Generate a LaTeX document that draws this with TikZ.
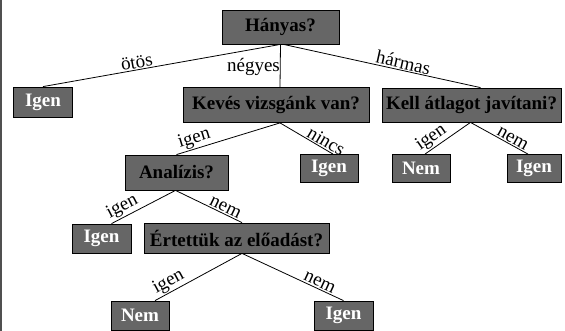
\documentclass[tikz,border=0pt]{standalone}
\usepackage{fontspec}
\setmainfont{Liberation Serif}
\definecolor{boxgray}{RGB}{102,102,102}
\definecolor{framegray}{RGB}{80,80,80}

\begin{document}
\begin{tikzpicture}[x=1pt, y=-1pt,
    font=\fontsize{19pt}{22pt}\selectfont,
    qbox/.style={draw=black, line width=0.8pt, fill=boxgray, inner sep=0pt,
                 font=\fontsize{19pt}{22pt}\selectfont\bfseries},
    leaf/.style={qbox, text=white},
    lbl/.style={sloped, above, inner sep=1pt}]

    % --- Frame ---
    \useasboundingbox (0,0) rectangle (565,331);
    \draw[framegray, line width=1.5pt] (1,0) -- (1,331);

    % --- Question Nodes ---
    \node[qbox, minimum width=117, minimum height=34] (hanyas) at (280.5,27) {Hányas?};
    \node[qbox, minimum width=186, minimum height=35] (keves) at (276,105) {Kevés vizsgánk van?};
    \node[qbox, minimum width=179, minimum height=34] (kell) at (471.5,105) {Kell átlagot javítani?};
    \node[qbox, minimum width=103, minimum height=35] (analizis) at (176.5,172.5) {Analízis?};
    \node[qbox, minimum width=185, minimum height=30] (ertettuk) at (236.5,238) {Értettük az előadást?};

    % --- Leaf Nodes ---
    \node[leaf, minimum width=59, minimum height=30] (igenA) at (43,102) {Igen};
    \node[leaf, minimum width=58, minimum height=28] (igenB) at (329,168.5) {Igen};
    \node[leaf, minimum width=58, minimum height=28] (nemA) at (421,168.5) {Nem};
    \node[leaf, minimum width=54, minimum height=28] (igenC) at (534,168.5) {Igen};
    \node[leaf, minimum width=59, minimum height=29] (igenD) at (101.5,238.5) {Igen};
    \node[leaf, minimum width=58, minimum height=29] (nemB) at (140,315.5) {Nem};
    \node[leaf, minimum width=59, minimum height=29] (igenE) at (343.5,315.5) {Igen};

    % --- Edges from Hányas? ---
    \draw[line width=0.8pt] (hanyas.south) -- node[lbl, pos=0.6] {ötös} (igenA.north);
    \draw[line width=0.8pt] (hanyas.south) -- node[left, pos=0.53, inner sep=0pt] {négyes} ([xshift=4]keves.north);
    \draw[line width=0.8pt] ([xshift=3]hanyas.south) -- node[lbl, pos=0.6] {hármas} ([xshift=9]kell.north);

    % --- Edges from Kevés vizsgánk van? ---
    \draw[line width=0.8pt] ([xshift=4]keves.south) -- node[lbl, pos=0.8] {igen} (analizis.north);
    \draw[line width=0.8pt] ([xshift=4]keves.south) -- node[lbl, pos=0.8] {nincs} ([xshift=4]igenB.north);

    % --- Edges from Kell átlagot javítani? ---
    \draw[line width=0.8pt] ([xshift=-1]kell.south) -- node[lbl, pos=0.74] {igen} ([xshift=4]nemA.north);
    \draw[line width=0.8pt] ([xshift=-1]kell.south) -- node[lbl, pos=0.68] {nem} ([xshift=-6]igenC.north);

    % --- Edges from Analízis? ---
    \draw[line width=0.8pt] ([xshift=-1]analizis.south) -- node[lbl, pos=0.76] {igen} ([xshift=10]igenD.north);
    \draw[line width=0.8pt] ([xshift=-1]analizis.south) -- node[lbl, pos=0.71] {nem} ([xshift=5.5]ertettuk.north);

    % --- Edges from Értettük az előadást? ---
    \draw[line width=0.8pt] ([xshift=5.5]ertettuk.south) -- node[lbl, pos=0.79] {igen} ([xshift=15]nemB.north);
    \draw[line width=0.8pt] ([xshift=5.5]ertettuk.south) -- node[lbl, pos=0.74] {nem} (igenE.north);

\end{tikzpicture}
\end{document}
